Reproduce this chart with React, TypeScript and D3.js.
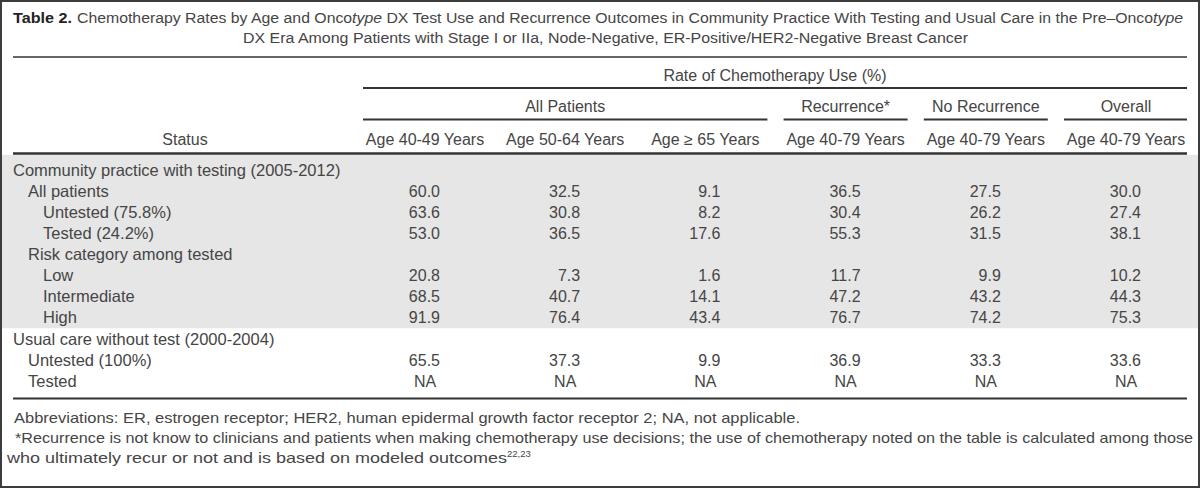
import React from "react";
import * as d3 from "d3";

const W = 1200;
const H = 488;

const titleLabel = "Table 2.";
const titleLine1 = [
  { t: "Chemotherapy Rates by Age and Onco", i: false },
  { t: "type", i: true },
  { t: " DX Test Use and Recurrence Outcomes in Community Practice With Testing and Usual Care in the Pre\u2013Onco", i: false },
  { t: "type", i: true },
];
const titleLine2 = "DX Era Among Patients with Stage I or IIa, Node-Negative, ER-Positive/HER2-Negative Breast Cancer";
const spannerLabel = "Rate of Chemotherapy Use (%)";
const groupLabels = ["All Patients", "Recurrence*", "No Recurrence", "Overall"];
const groupStart = [0, 3, 4, 5];
const groupEnd = [2, 3, 4, 5];
const stubHeader = "Status";
const columnLabels = [
  "Age 40-49 Years",
  "Age 50-64 Years",
  "Age \u2265 65 Years",
  "Age 40-79 Years",
  "Age 40-79 Years",
  "Age 40-79 Years",
];
const rowLabels = [
  "Community practice with testing (2005-2012)",
  "All patients",
  "Untested (75.8%)",
  "Tested (24.2%)",
  "Risk category among tested",
  "Low",
  "Intermediate",
  "High",
  "Usual care without test (2000-2004)",
  "Untested (100%)",
  "Tested",
];
const rowLevels = [0, 1, 2, 2, 1, 2, 2, 2, 0, 1, 1];
const shadedRows = [0, 1, 2, 3, 4, 5, 6, 7];
const cellValues: string[][] = [
  ["", "", "", "", "", ""],
  ["60.0", "32.5", "9.1", "36.5", "27.5", "30.0"],
  ["63.6", "30.8", "8.2", "30.4", "26.2", "27.4"],
  ["53.0", "36.5", "17.6", "55.3", "31.5", "38.1"],
  ["", "", "", "", "", ""],
  ["20.8", "7.3", "1.6", "11.7", "9.9", "10.2"],
  ["68.5", "40.7", "14.1", "47.2", "43.2", "44.3"],
  ["91.9", "76.4", "43.4", "76.7", "74.2", "75.3"],
  ["", "", "", "", "", ""],
  ["65.5", "37.3", "9.9", "36.9", "33.3", "33.6"],
  ["NA", "NA", "NA", "NA", "NA", "NA"],
];
const footnote1 = "Abbreviations: ER, estrogen receptor; HER2, human epidermal growth factor receptor 2; NA, not applicable.";
const footnote2 = "*Recurrence is not know to clinicians and patients when making chemotherapy use decisions; the use of chemotherapy noted on the table is calculated among those";
const footnote3 = "who ultimately recur or not and is based on modeled outcomes";
const footnote3Sup = "22,23";

const FONT = "'Liberation Sans', Arial, Helvetica, sans-serif";
const TEXT = "#454545";
const RULE = "#333";

export default function App() {
  const left = 13;
  const right = 1187;
  const halfCol = 62;
  const x = d3.scalePoint<number>().domain(d3.range(columnLabels.length)).range([425, 1126]);
  const y = d3.scalePoint<number>().domain(d3.range(rowLabels.length)).range([170, 381]);
  const indent = d3.scaleLinear().domain([0, 2]).range([left, left + 30]);
  const shadeTop = 155;
  const lastShaded = shadedRows[shadedRows.length - 1];
  const shadeBottom = (y(lastShaded)! + y(lastShaded + 1)!) / 2;
  const fs = 16;

  return (
    <svg
      width={W}
      height={H}
      viewBox={`0 0 ${W} ${H}`}
      style={{ position: "absolute", left: 0, top: 0, background: "#fff" }}
      fontFamily={FONT}
      fontSize={fs}
      fill={TEXT}
    >
      <rect x={0} y={0} width={W} height={H} fill="#fff" />
      <rect x={0} y={shadeTop} width={W} height={shadeBottom - shadeTop} fill="#e6e6e6" />
      <rect x={1} y={1} width={W - 2} height={H - 2} fill="none" stroke="#3c3c3c" strokeWidth={2} />

      {/* title */}
      <text x={left} y={23} fontWeight="bold" fontSize={15} fill="#222" textLength={59} lengthAdjust="spacingAndGlyphs">
        {titleLabel}
      </text>
      <text x={77} y={23} fontSize={15.5} textLength={1106} lengthAdjust="spacingAndGlyphs">
        {titleLine1.map((s, k) => (
          <tspan key={k} fontStyle={s.i ? "italic" : "normal"}>
            {s.t}
          </tspan>
        ))}
      </text>
      <text x={243} y={43} fontSize={15.5} textLength={725} lengthAdjust="spacingAndGlyphs">
        {titleLine2}
      </text>
      <line x1={left} x2={right} y1={57} y2={57} stroke={RULE} strokeWidth={1.5} />

      {/* spanner */}
      <text x={(363 + right) / 2} y={75} dy="0.35em" textAnchor="middle">
        {spannerLabel}
      </text>
      <line x1={363} x2={right} y1={88} y2={88} stroke={RULE} strokeWidth={2} />

      {groupLabels.map((g, k) => {
        const x1 = x(groupStart[k])! - halfCol;
        const x2 = x(groupEnd[k])! + halfCol;
        return (
          <g key={g}>
            <text x={(x1 + x2) / 2} y={106} dy="0.35em" textAnchor="middle">
              {g}
            </text>
            <line x1={x1} x2={Math.min(x2, right)} y1={119.5} y2={119.5} stroke={RULE} strokeWidth={2} />
          </g>
        );
      })}

      <text x={185} y={139} dy="0.35em" textAnchor="middle">
        {stubHeader}
      </text>
      {columnLabels.map((c, k) => (
        <text key={k} x={x(k)} y={139} dy="0.35em" textAnchor="middle">
          {c}
        </text>
      ))}
      <line x1={left} x2={right} y1={153.5} y2={153.5} stroke={RULE} strokeWidth={2.5} />

      {/* body */}
      {rowLabels.map((r, i) => (
        <g key={i}>
          <text x={indent(rowLevels[i])} y={y(i)} dy="0.35em" fontSize={16.5}>
            {r}
          </text>
          {cellValues[i].map((v, j) => {
            if (!v) return null;
            const numeric = !isNaN(+v);
            return (
              <text
                key={j}
                x={numeric ? x(j)! + 15 : x(j)}
                y={y(i)}
                dy="0.35em"
                textAnchor={numeric ? "end" : "middle"}
              >
                {v}
              </text>
            );
          })}
        </g>
      ))}
      <line x1={left} x2={right} y1={398.5} y2={398.5} stroke={RULE} strokeWidth={2} />

      {/* footnotes */}
      <text x={14} y={418} dy="0.35em" fontSize={15} textLength={786} lengthAdjust="spacingAndGlyphs">
        {footnote1}
      </text>
      <text x={15} y={438} dy="0.35em" fontSize={15} textLength={1178} lengthAdjust="spacingAndGlyphs">
        {footnote2}
      </text>
      <text x={7} y={458} dy="0.35em" fontSize={15}>
        <tspan textLength={500} lengthAdjust="spacingAndGlyphs">
          {footnote3}
        </tspan>
        <tspan dy={-6} fontSize={9.5}>
          {footnote3Sup}
        </tspan>
      </text>
    </svg>
  );
}
